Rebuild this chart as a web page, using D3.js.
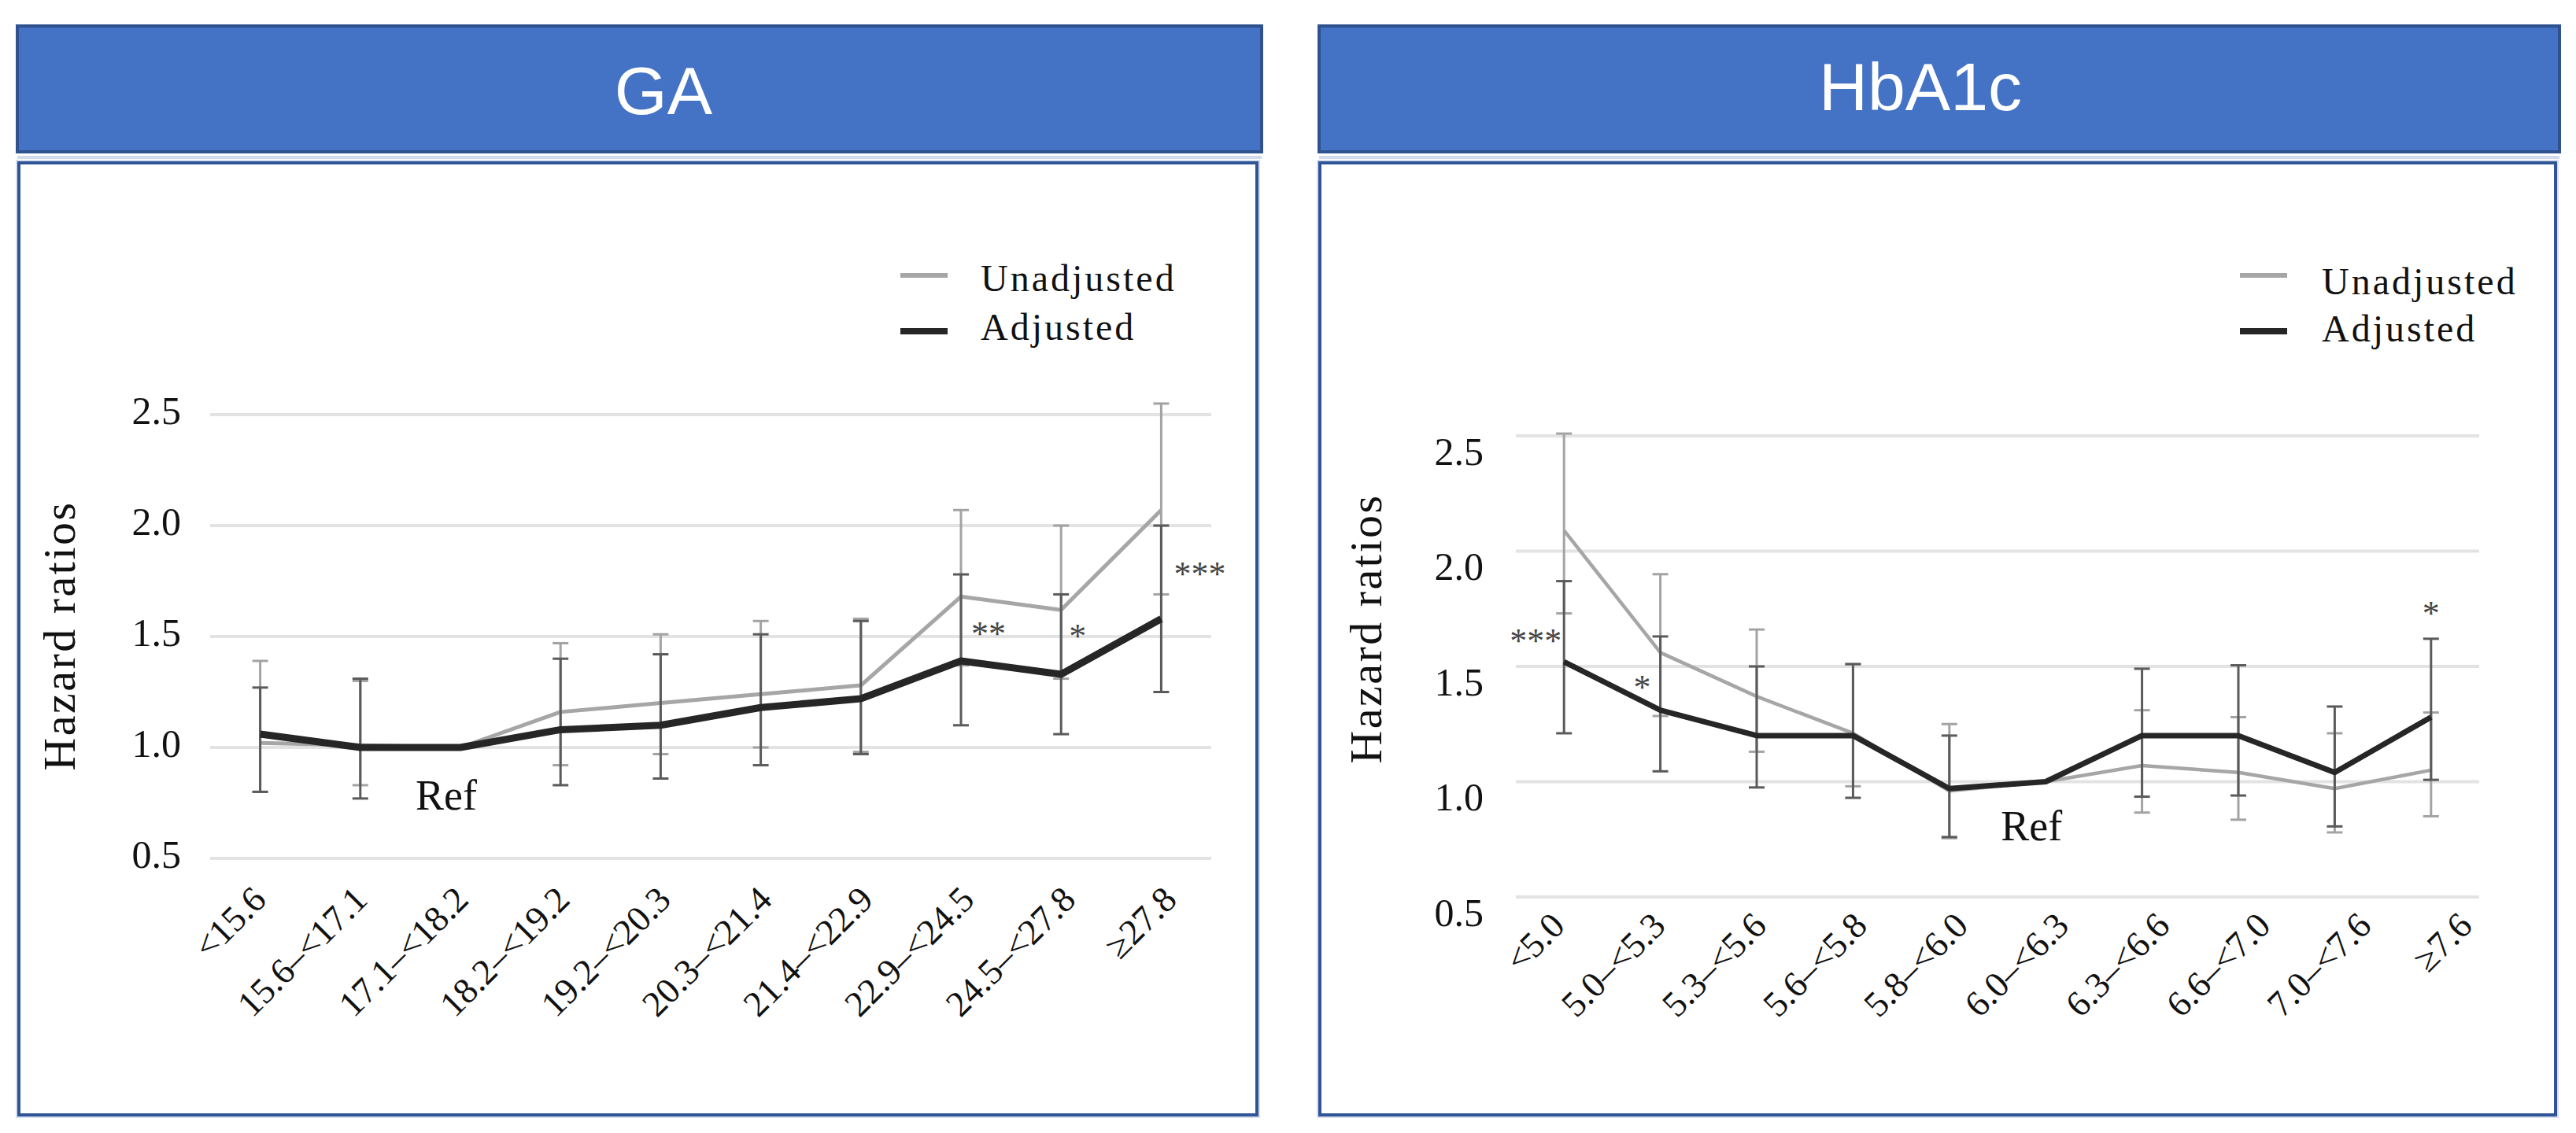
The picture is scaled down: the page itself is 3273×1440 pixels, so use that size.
<!DOCTYPE html>
<html>
<head>
<meta charset="utf-8">
<script src="https://cdn.jsdelivr.net/npm/d3@7"></script>
<style>
  html, body { margin: 0; padding: 0; background: #ffffff; }
  svg { display: block; }
</style>
</head>
<body>
<svg id="chart" width="3273" height="1440"></svg>
<script>
// ---------------- DATA ----------------
const yTicks = [0.5, 1.0, 1.5, 2.0, 2.5];
const seriesNames = ["Unadjusted", "Adjusted"];

// GA panel
const gaCategories = ["<15.6", "15.6\u2013<17.1", "17.1\u2013<18.2", "18.2\u2013<19.2", "19.2\u2013<20.3",
                      "20.3\u2013<21.4", "21.4\u2013<22.9", "22.9\u2013<24.5", "24.5\u2013<27.8", "\u226527.8"];
const gaUnadj     = [1.02, 1.01, 1.00, 1.16, 1.20, 1.24, 1.28, 1.68, 1.62, 2.07];
const gaUnadjLow  = [0.80, 0.83, null, 0.92, 0.97, 1.00, 0.98, 1.37, 1.31, 1.69];
const gaUnadjHigh = [1.39, 1.30, null, 1.47, 1.51, 1.57, 1.58, 2.07, 2.00, 2.55];
const gaAdj       = [1.06, 1.00, 1.00, 1.08, 1.10, 1.18, 1.22, 1.39, 1.33, 1.58];
const gaAdjLow    = [0.80, 0.77, null, 0.83, 0.86, 0.92, 0.97, 1.10, 1.06, 1.25];
const gaAdjHigh   = [1.27, 1.31, null, 1.40, 1.42, 1.51, 1.57, 1.78, 1.69, 2.00];
const gaSig       = ["", "", "", "", "", "", "", "**", "*", "***"];
const gaSigValue  = [null, null, null, null, null, null, null, 1.46, 1.45, 1.73];
const gaRefIndex  = 2;
const gaRefValue  = 0.72;

// HbA1c panel
const hbCategories = ["<5.0", "5.0\u2013<5.3", "5.3\u2013<5.6", "5.6\u2013<5.8", "5.8\u2013<6.0",
                      "6.0\u2013<6.3", "6.3\u2013<6.6", "6.6\u2013<7.0", "7.0\u2013<7.6", "\u22657.6"];
const hbUnadj     = [2.09, 1.56, 1.37, 1.21, 0.96, 1.00, 1.07, 1.04, 0.97, 1.05];
const hbUnadjLow  = [1.73, 1.285, 1.13, 0.98, 0.755, null, 0.866, 0.835, 0.78, 0.85];
const hbUnadjHigh = [2.51, 1.90, 1.66, 1.51, 1.25, null, 1.31, 1.28, 1.21, 1.30];
const hbAdj       = [1.52, 1.31, 1.20, 1.20, 0.97, 1.00, 1.20, 1.20, 1.04, 1.28];
const hbAdjLow    = [1.21, 1.045, 0.975, 0.93, 0.76, null, 0.935, 0.94, 0.806, 1.008];
const hbAdjHigh   = [1.87, 1.63, 1.50, 1.51, 1.20, null, 1.49, 1.505, 1.326, 1.62];
const hbSig       = ["***", "*", "", "", "", "", "", "", "", "*"];
const hbSigValue  = [1.56, 1.36, null, null, null, null, null, null, null, 1.68];
const hbRefIndex  = 5;
const hbRefValue  = 0.746;

// ---------------- LAYOUT ----------------
const serif = "'Liberation Serif', 'Times New Roman', serif";
const sans = "'Liberation Sans', Arial, sans-serif";

const panels = [
  {
    title: "GA", titleX: 843, titleY: 145,
    header: [22, 33, 1581, 160], box: [24, 207, 1573, 1210],
    plotX: [267, 1539], plotY: [1091, 527],
    labelRange: [340, 1497], labelY: 1146,
    yLabelX: 230, yLabelDy: 11,
    yTitleX: 95, yTitleY: 808,
    legendX: 1144, legendTextX: 1246, legendY: [350, 421], legendBase: [370, 432],
    adjWidth: 9, unadjWidth: 5,
    sigDx: [0, 0, 0, 0, 0, 0, 0, 13, 10, 16], sigAnchor: "start",
    refDx: -18,
    cats: gaCategories, unadj: gaUnadj, unadjLow: gaUnadjLow, unadjHigh: gaUnadjHigh,
    adj: gaAdj, adjLow: gaAdjLow, adjHigh: gaAdjHigh, sig: gaSig, sigV: gaSigValue,
    refIndex: gaRefIndex, refValue: gaRefValue
  },
  {
    title: "HbA1c", titleX: 2440, titleY: 140,
    header: [1676, 33, 1576, 160], box: [1677, 207, 1570, 1210],
    plotX: [1926, 3150], plotY: [1140, 554],
    labelRange: [1990, 3143], labelY: 1179,
    yLabelX: 1885, yLabelDy: 36,
    yTitleX: 1755, yTitleY: 799,
    legendX: 2846, legendTextX: 2950, legendY: [350, 421], legendBase: [374, 434],
    adjWidth: 7, unadjWidth: 4.5,
    sigDx: [-3, -12, 0, 0, 0, 0, 0, 0, 0, 0], sigAnchorList: ["end", "end", "", "", "", "", "", "", "", "middle"],
    refDx: -18,
    cats: hbCategories, unadj: hbUnadj, unadjLow: hbUnadjLow, unadjHigh: hbUnadjHigh,
    adj: hbAdj, adjLow: hbAdjLow, adjHigh: hbAdjHigh, sig: hbSig, sigV: hbSigValue,
    refIndex: hbRefIndex, refValue: hbRefValue
  }
];

const svg = d3.select("#chart");
svg.append("rect").attr("width", 3273).attr("height", 1440).attr("fill", "#ffffff");

panels.forEach(p => {
  const g = svg.append("g");

  // Header
  g.append("rect")
    .attr("x", p.header[0]).attr("y", p.header[1])
    .attr("width", p.header[2]).attr("height", p.header[3])
    .attr("fill", "#4472C4").attr("stroke", "#2F528F").attr("stroke-width", 4);
  g.append("text")
    .attr("x", p.titleX).attr("y", p.titleY)
    .attr("text-anchor", "middle")
    .attr("font-family", sans).attr("font-size", 86)
    .attr("fill", "#ffffff").text(p.title);
  g.append("line")
    .attr("x1", p.header[0]).attr("x2", p.header[0] + p.header[2])
    .attr("y1", 200).attr("y2", 200)
    .attr("stroke", "#D3DAEA").attr("stroke-width", 4);

  // Box
  g.append("rect")
    .attr("x", p.box[0] - 3).attr("y", p.box[1] - 3)
    .attr("width", p.box[2] + 6).attr("height", p.box[3] + 6)
    .attr("fill", "none").attr("stroke", "#D7DEEE").attr("stroke-width", 2);
  g.append("rect")
    .attr("x", p.box[0]).attr("y", p.box[1])
    .attr("width", p.box[2]).attr("height", p.box[3])
    .attr("fill", "#ffffff").attr("stroke", "#2F5597").attr("stroke-width", 4);

  // Scales
  const x = d3.scaleBand().domain(p.cats).range(p.plotX).padding(0);
  const cx = c => x(c) + x.bandwidth() / 2;
  const xl = d3.scalePoint().domain(p.cats).range(p.labelRange);
  const y = d3.scaleLinear().domain([0.5, 2.5]).range(p.plotY);

  // Gridlines
  g.append("g").selectAll("line").data(yTicks).join("line")
    .attr("x1", p.plotX[0]).attr("x2", p.plotX[1])
    .attr("y1", d => y(d)).attr("y2", d => y(d))
    .attr("stroke", "#E3E3E3").attr("stroke-width", 4);

  // Y axis labels
  const yAxis = g.append("g")
    .attr("transform", `translate(${p.yLabelX},0)`)
    .call(d3.axisLeft(y).tickValues(yTicks).tickFormat(d3.format(".1f")).tickSize(0).tickPadding(0));
  yAxis.select(".domain").remove();
  yAxis.selectAll("text")
    .attr("x", 0).attr("dy", null).attr("y", p.yLabelDy)
    .attr("text-anchor", "end")
    .attr("font-family", serif).attr("font-size", 50).attr("fill", "#111");

  // Y title
  g.append("text")
    .attr("transform", `translate(${p.yTitleX},${p.yTitleY}) rotate(-90)`)
    .attr("text-anchor", "middle")
    .attr("font-family", serif).attr("font-size", 58)
    .attr("letter-spacing", 2.5)
    .attr("fill", "#111").text("Hazard ratios");

  // X axis labels
  const xAxis = g.append("g")
    .attr("transform", `translate(0,${p.labelY})`)
    .call(d3.axisBottom(xl).tickSize(0).tickPadding(0));
  xAxis.select(".domain").remove();
  xAxis.selectAll("text")
    .attr("x", 0).attr("y", 0).attr("dy", null)
    .attr("transform", "rotate(-45)")
    .attr("text-anchor", "end")
    .attr("font-family", serif).attr("font-size", 46).attr("fill", "#111");

  // Error bars helper
  function errorBars(low, high, color) {
    const idx = p.cats.map((c, i) => i).filter(i => low[i] != null);
    const eb = g.append("g").attr("stroke", color).attr("stroke-width", 3);
    eb.selectAll("line.v").data(idx).join("line").attr("class", "v")
      .attr("x1", i => cx(p.cats[i])).attr("x2", i => cx(p.cats[i]))
      .attr("y1", i => y(low[i])).attr("y2", i => y(high[i]));
    eb.selectAll("line.lo").data(idx).join("line").attr("class", "lo")
      .attr("x1", i => cx(p.cats[i]) - 10).attr("x2", i => cx(p.cats[i]) + 10)
      .attr("y1", i => y(low[i])).attr("y2", i => y(low[i]));
    eb.selectAll("line.hi").data(idx).join("line").attr("class", "hi")
      .attr("x1", i => cx(p.cats[i]) - 10).attr("x2", i => cx(p.cats[i]) + 10)
      .attr("y1", i => y(high[i])).attr("y2", i => y(high[i]));
  }

  const line = d3.line().x((v, i) => cx(p.cats[i])).y(v => y(v));

  // Unadjusted
  errorBars(p.unadjLow, p.unadjHigh, "#A3A3A3");
  g.append("path").datum(p.unadj)
    .attr("d", line).attr("fill", "none")
    .attr("stroke", "#A6A6A6").attr("stroke-width", p.unadjWidth)
    .attr("stroke-linejoin", "round");

  // Adjusted
  errorBars(p.adjLow, p.adjHigh, "#5A5A5A");
  g.append("path").datum(p.adj)
    .attr("d", line).attr("fill", "none")
    .attr("stroke", "#262626").attr("stroke-width", p.adjWidth)
    .attr("stroke-linejoin", "round");

  // Significance markers
  p.sig.forEach((s, i) => {
    if (!s) return;
    const anchor = p.sigAnchorList ? p.sigAnchorList[i] : p.sigAnchor;
    g.append("text")
      .attr("x", cx(p.cats[i]) + p.sigDx[i]).attr("y", y(p.sigV[i]))
      .attr("text-anchor", anchor)
      .attr("font-family", serif).attr("font-size", 44)
      .attr("fill", "#444").text(s);
  });

  // Ref label
  g.append("text")
    .attr("x", cx(p.cats[p.refIndex]) + p.refDx).attr("y", y(p.refValue))
    .attr("text-anchor", "middle")
    .attr("font-family", serif).attr("font-size", 54)
    .attr("fill", "#111").text("Ref");

  // Legend
  const legendColors = ["#A6A6A6", "#262626"];
  const legendWidths = [6, 8];
  seriesNames.forEach((name, k) => {
    g.append("line")
      .attr("x1", p.legendX).attr("x2", p.legendX + 60)
      .attr("y1", p.legendY[k]).attr("y2", p.legendY[k])
      .attr("stroke", legendColors[k]).attr("stroke-width", legendWidths[k]);
    g.append("text")
      .attr("x", p.legendTextX).attr("y", p.legendBase[k])
      .attr("font-family", serif).attr("font-size", 48)
      .attr("letter-spacing", 3)
      .attr("fill", "#111").text(name);
  });
});
</script>
</body>
</html>
